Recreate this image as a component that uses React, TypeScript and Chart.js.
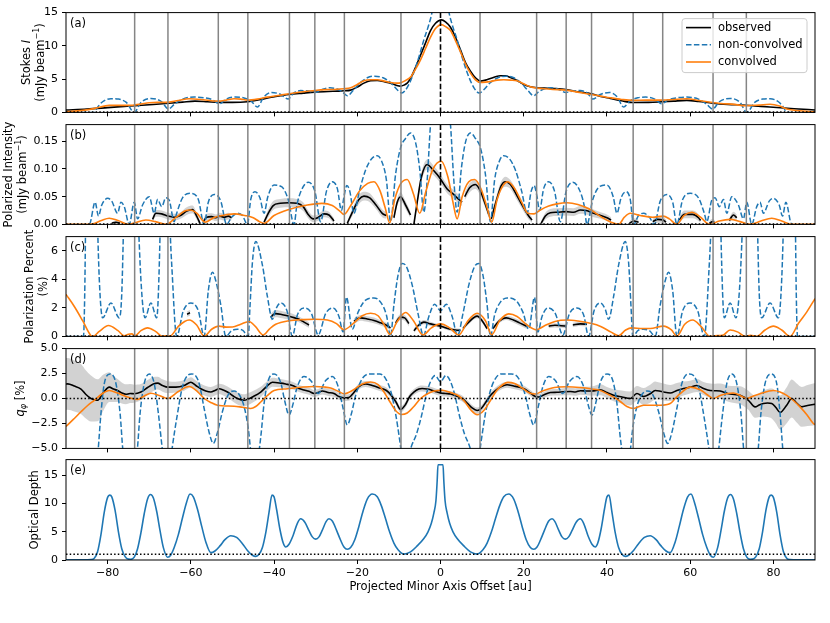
import { useEffect, useRef } from 'react';
import { Chart, registerables } from 'chart.js';

Chart.register(...registerables);

const FONT = '"DejaVu Sans", "Liberation Sans", Arial, sans-serif';
const BLUE = '#1f77b4';
const ORANGE = '#ff7f0e';
const BAND = 'rgba(165,165,165,0.5)';

type Pt = [number, number];
type Obs = [number, number, number] | null;

// ---------------- shared axis data ----------------
const xTickValues = [-80, -60, -40, -20, 0, 20, 40, 60, 80];
const ringGapOffsets = [-73.5, -65.5, -53.4, -46.3, -36.3, -30.2, -23.1, -9.5, 9.5, 23.1, 30.2, 36.3, 46.3, 53.4, 65.5, 73.5];
const legendLabels = ['observed', 'non-convolved', 'convolved'];
const xAxisTitle = 'Projected Minor Axis Offset [au]';

// ---------------- (a) Stokes I ----------------
const stokesObserved: Pt[] = [
  [-90, 0.35], [-85, 0.5], [-80, 0.72], [-76, 0.9], [-73.5, 1.0], [-70, 1.15], [-66, 1.33], [-62, 1.55], [-59, 1.7], [-56, 1.6],
  [-53.4, 1.5], [-50, 1.5], [-46.4, 1.6], [-43.5, 1.9], [-41, 2.25], [-38.5, 2.5], [-36.4, 2.7], [-33, 2.9], [-30.2, 3.05], [-27, 3.15],
  [-24.5, 3.2], [-23.2, 3.25], [-21.6, 3.35], [-20, 3.8], [-18.4, 4.4], [-16.8, 4.75], [-15.2, 4.8], [-13.5, 4.6], [-12, 4.4], [-10.5, 4.05],
  [-9.6, 3.95], [-8.8, 4.1], [-8, 4.4], [-7.2, 5.1], [-6.4, 6.2], [-4.8, 8.6], [-3.5, 10.6], [-2.4, 12.3], [-1.2, 13.4], [0.25, 13.9],
  [1.2, 13.6], [2.4, 12.8], [3.6, 11.3], [4.8, 9.4], [6, 7.5], [7.2, 6.2], [8.4, 5.2], [9.6, 4.7], [10.8, 4.85], [12, 5.1],
  [13.2, 5.35], [14.4, 5.5], [15.6, 5.5], [16.8, 5.25], [18.4, 4.8], [20, 4.2], [21.6, 3.85], [23.2, 3.7], [25, 3.65], [27, 3.6],
  [30.2, 3.45], [33, 3.1], [36.2, 2.8], [38.5, 2.4], [40.8, 2.1], [43.5, 1.75], [46.2, 1.48], [50, 1.5], [53.3, 1.6], [56, 1.7],
  [59.2, 1.8], [62, 1.65], [65.4, 1.38], [69, 1.2], [73.4, 1.08], [77, 0.9], [80.8, 0.74], [85, 0.55], [90, 0.37],
];
const stokesNonConvolved: Pt[] = [
  [-90, 0], [-83.2, 0], [-82.4, 0.8], [-81.2, 1.6], [-79.2, 2.07], [-77.4, 2.0], [-75.5, 1.5], [-73.6, 0], [-72, 1.5], [-69.6, 2.1],
  [-67, 1.6], [-65.4, 0.5], [-64, 1.2], [-62, 2.0], [-59.2, 2.3], [-56.8, 2.2], [-54.8, 1.9], [-53.1, 1.3], [-51.5, 2.0], [-49.3, 2.3],
  [-47.4, 2.2], [-45.5, 1.7], [-44, 0.8], [-42.5, 2.3], [-40.6, 3.0], [-38.4, 2.7], [-36.6, 2.0], [-35.3, 2.9], [-33.6, 3.28], [-31.8, 3.2],
  [-30.1, 3.0], [-28.4, 3.45], [-26.6, 3.7], [-25, 3.55], [-23.6, 3.1], [-22.4, 2.5], [-21, 3.3], [-19.4, 4.4], [-17.6, 5.2], [-15.8, 5.45],
  [-13.8, 5.2], [-12, 4.5], [-10.4, 3.4], [-9.3, 2.9], [-8.6, 3.2], [-7.6, 4.2], [-6.4, 6.0], [-5.2, 8.3], [-4, 10.9], [-2.8, 13.2],
  [-2.0, 15.2], [-1.2, 19], [0, 22], [1.2, 19], [2.0, 15.2], [2.8, 13.2], [4, 10.9], [5.2, 8.3], [6.4, 6.0], [7.6, 4.2],
  [8.6, 3.2], [9.3, 2.9], [10.4, 3.4], [12, 4.5], [13.8, 5.2], [15.8, 5.45], [17.6, 5.2], [19.4, 4.4], [21, 3.3], [22.4, 2.5],
  [23.6, 3.1], [25, 3.55], [26.6, 3.7], [28.4, 3.45], [30.1, 3.0], [31.8, 3.2], [33.6, 3.28], [35.3, 2.9], [36.6, 2.0], [38.4, 2.7],
  [40.6, 3.0], [42.5, 2.3], [44, 0.8], [45.5, 1.7], [47.4, 2.2], [49.3, 2.3], [51.5, 2.0], [53.1, 1.3], [54.8, 1.9], [56.8, 2.2],
  [59.2, 2.3], [62, 2.0], [64, 1.2], [65.4, 0.5], [67, 1.6], [69.6, 2.1], [72, 1.5], [73.6, 0], [75.5, 1.5], [77.4, 2.0],
  [79.2, 2.07], [81.2, 1.6], [82.4, 0.8], [83.2, 0], [90, 0],
];
const stokesConvolved: Pt[] = [
  [-90, 0.1], [-86, 0.3], [-83, 0.6], [-79.6, 1.05], [-76, 1.05], [-74, 1.08], [-72, 1.25], [-70, 1.45], [-68, 1.5], [-66, 1.5],
  [-63, 1.8], [-60.4, 2.05], [-57, 1.9], [-54.5, 1.72], [-53.4, 1.7], [-51.5, 1.85], [-49.6, 2.05], [-48, 2.0], [-46.4, 1.85], [-44, 2.0],
  [-41.6, 2.3], [-39, 2.55], [-36.4, 2.8], [-33, 3.1], [-30.2, 3.3], [-27.5, 3.42], [-25.6, 3.45], [-23.2, 3.55], [-21.6, 3.7], [-20, 4.2],
  [-18.4, 4.75], [-16.8, 4.9], [-15.2, 4.9], [-13.5, 4.7], [-12, 4.5], [-10.5, 4.4], [-9.6, 4.44], [-8.4, 4.8], [-7.2, 5.3], [-6, 6.5],
  [-4.8, 7.9], [-3.6, 9.6], [-2.4, 11.3], [-1.2, 12.6], [0.25, 13.2], [1.2, 12.9], [2.4, 12.3], [3.6, 10.8], [4.8, 9.1], [6, 7.3],
  [7.2, 5.9], [8.4, 4.9], [9.6, 4.5], [10.8, 4.55], [12, 4.65], [13.6, 4.85], [15.2, 4.9], [16.8, 4.85], [18.4, 4.75], [20, 4.3],
  [21.6, 3.85], [23.2, 3.65], [24.8, 3.55], [27, 3.45], [30.2, 3.35], [33, 3.05], [36.2, 2.7], [38.5, 2.45], [40.8, 2.2], [43.5, 1.95],
  [46.2, 1.8], [49.5, 1.85], [53.3, 1.85], [56, 1.95], [59.2, 2.05], [62, 1.8], [65.4, 1.48], [68, 1.3], [70, 1.25], [73.4, 1.0],
  [76.5, 1.1], [79.2, 1.23], [81.5, 0.95], [83.2, 0.5], [86, 0.25], [90, 0.1],
];

// ---------------- (b) Polarized intensity ----------------
const piObserved: Obs[] = [
  [-79, 0.002, 0.002], [-78, 0.004, 0.003], [-77, 0.002, 0.002], null,
  [-69.2, 0.009, 0.005], [-68.4, 0.02, 0.006], [-67, 0.019, 0.006], [-65.5, 0.015, 0.006], [-64, 0.013, 0.006], [-62.5, 0.016, 0.006],
  [-61, 0.024, 0.007], [-59.6, 0.027, 0.007], [-58.6, 0.015, 0.006], [-57.8, 0.002, 0.004], null,
  [-57, 0.005, 0.005], [-56.2, 0.013, 0.006], [-55, 0.014, 0.006], [-54, 0.012, 0.006], [-53, 0.015, 0.006], [-52, 0.013, 0.006],
  [-51, 0.015, 0.006], [-50.2, 0.012, 0.005], null,
  [-42.4, 0.004, 0.004], [-41.4, 0.02, 0.007], [-40.2, 0.034, 0.008], [-38.5, 0.038, 0.008], [-36.5, 0.039, 0.008], [-34.5, 0.038, 0.008],
  [-33, 0.032, 0.008], [-31.8, 0.018, 0.007], [-30.6, 0.01, 0.006], [-29.5, 0.012, 0.006], [-28, 0.019, 0.006], [-26.8, 0.017, 0.006],
  [-25.6, 0.006, 0.005], null,
  [-22.4, 0.002, 0.004], [-21, 0.025, 0.007], [-19.6, 0.045, 0.008], [-18.4, 0.051, 0.008], [-17, 0.048, 0.008], [-15.5, 0.035, 0.007],
  [-14, 0.02, 0.007], [-13, 0.016, 0.006], null,
  [-11.2, 0.012, 0.006], [-10.4, 0.04, 0.007], [-9.6, 0.05, 0.008], [-8.4, 0.035, 0.007], [-7.2, 0.017, 0.006], null,
  [-6.4, 0.0, 0.004], [-5.6, 0.04, 0.007], [-4.6, 0.085, 0.008], [-3.2, 0.108, 0.009], [-2, 0.1, 0.009], [-0.8, 0.09, 0.008],
  [0, 0.082, 0.008], [1.6, 0.064, 0.008], [3, 0.055, 0.008], [4, 0.048, 0.008], [5.2, 0.04, 0.007], null,
  [5.8, 0.05, 0.007], [7, 0.066, 0.008], [8.4, 0.072, 0.008], [9.6, 0.06, 0.008], [10.6, 0.04, 0.007], [11.6, 0.018, 0.006], null,
  [12.2, 0.01, 0.005], [13.5, 0.045, 0.008], [14.6, 0.07, 0.008], [15.6, 0.077, 0.009], [16.8, 0.072, 0.008], [18.5, 0.05, 0.008],
  [20, 0.03, 0.007], [21.2, 0.015, 0.006], [22, 0.008, 0.005], null,
  [24.2, 0.002, 0.004], [25.2, 0.015, 0.006], [26.4, 0.021, 0.007], [28, 0.022, 0.007], [30.2, 0.023, 0.007], [32, 0.022, 0.007],
  [33.6, 0.026, 0.007], [35, 0.025, 0.007], [36.8, 0.02, 0.007], [38.5, 0.016, 0.006], [40, 0.012, 0.006], [41, 0.008, 0.005], null,
  [45.4, 0.002, 0.004], [46.5, 0.006, 0.005], [47.6, 0.004, 0.004], null,
  [51, 0.005, 0.005], [52.2, 0.009, 0.006], [53.5, 0.008, 0.006], [54.2, 0.004, 0.005], null,
  [57.4, 0.008, 0.006], [58.6, 0.018, 0.007], [60.6, 0.018, 0.007], [62, 0.012, 0.006], [62.5, 0.007, 0.005], null,
  [64.6, 0.002, 0.004], [65.4, 0.005, 0.005], [66, 0.002, 0.004], null,
  [69.4, 0.007, 0.005], [70.4, 0.017, 0.006], [71.2, 0.012, 0.006],
];
const piNonConvolved: Pt[] = [
  [-90, 0], [-84.4, 0], [-83, 0.04], [-82.2, 0.015], [-81.4, 0.035], [-80, 0.047], [-79, 0.042], [-77.6, 0.02], [-76.8, 0.04], [-76, 0.032],
  [-74.8, 0], [-73.6, 0.04], [-72.8, 0.01], [-71.6, 0.035], [-70, 0.05], [-68.8, 0.02], [-68, 0.045], [-67, 0.032], [-66, 0.048], [-65.2, 0.044],
  [-64, 0.005], [-63.4, 0.02], [-62, 0.048], [-60, 0.056], [-58.2, 0.045], [-56.8, 0], [-55.8, 0.04], [-54.4, 0.054], [-52.8, 0.042], [-51.4, 0],
  [-50.2, 0.013], [-48.8, 0.02], [-47.6, 0.016], [-46.4, 0], [-45.6, 0.045], [-44.6, 0.059], [-43.4, 0.048], [-42.4, 0.02], [-41.5, 0.05], [-40, 0.071],
  [-38.2, 0.068], [-36.6, 0.045], [-35.2, 0], [-34.5, 0.035], [-33.4, 0.062], [-31.8, 0.076], [-30.2, 0.06], [-28.8, 0.005], [-27.4, 0.06], [-26, 0.077],
  [-24.8, 0.065], [-23.8, 0.025], [-23.2, 0.05], [-22.5, 0.07], [-21.8, 0.06], [-20.8, 0.02], [-19.5, 0.06], [-18, 0.098], [-16.6, 0.118], [-15.2, 0.124],
  [-14.2, 0.115], [-13, 0.08], [-12, 0.005], [-10.8, 0.09], [-9.6, 0.138], [-8.4, 0.155], [-7.2, 0.165], [-6, 0.148], [-5, 0.1], [-4, 0.022],
  [-3.2, 0.08], [-2.4, 0.18], [-1.2, 0.26], [0, 0.3], [1.2, 0.26], [2.4, 0.18], [3.2, 0.08], [4, 0.022], [5, 0.1], [6, 0.148],
  [7.2, 0.165], [8.4, 0.155], [9.6, 0.138], [10.8, 0.09], [12, 0.005], [13, 0.08], [14.2, 0.115], [15.2, 0.124], [16.6, 0.118], [18, 0.098],
  [19.5, 0.06], [20.8, 0.02], [21.8, 0.06], [22.5, 0.07], [23.2, 0.05], [23.8, 0.025], [24.8, 0.065], [26, 0.077], [27.4, 0.06], [28.8, 0.005],
  [30.2, 0.06], [31.8, 0.076], [33.4, 0.062], [34.5, 0.035], [35.2, 0], [36.6, 0.045], [38.2, 0.068], [40, 0.071], [41.5, 0.05], [42.4, 0.02],
  [43.4, 0.048], [44.6, 0.059], [45.6, 0.045], [46.4, 0], [47.6, 0.016], [48.8, 0.02], [50.2, 0.013], [51.4, 0], [52.8, 0.042], [54.4, 0.054],
  [55.8, 0.04], [56.8, 0], [58.2, 0.045], [60, 0.056], [62, 0.048], [63.4, 0.02], [64, 0.005], [65.2, 0.044], [66, 0.048], [67, 0.032],
  [68, 0.045], [68.8, 0.02], [70, 0.05], [71.6, 0.035], [72.8, 0.01], [73.6, 0.04], [74.8, 0], [76, 0.032], [76.8, 0.04], [77.6, 0.02],
  [79, 0.042], [80, 0.047], [81.4, 0.035], [82.2, 0.015], [83, 0.04], [84.4, 0], [90, 0],
];
const piConvolved: Pt[] = [
  [-90, 0], [-85, 0], [-83.5, 0.001], [-81.5, 0.007], [-79.6, 0.011], [-77.5, 0.007], [-75, 0], [-73.5, 0.003], [-70.8, 0.008], [-68.5, 0.005],
  [-66, 0], [-63.5, 0.013], [-61.5, 0.024], [-60.2, 0.026], [-58.5, 0.02], [-56.6, 0.004], [-54.5, 0.012], [-52.5, 0.016], [-49.6, 0.019], [-47, 0.016],
  [-45, 0.012], [-43.5, 0.005], [-42.4, 0.002], [-40, 0.016], [-36.4, 0.027], [-32, 0.035], [-28.5, 0.038], [-26, 0.034], [-24.2, 0.024], [-23.2, 0.018],
  [-21.5, 0.035], [-19.5, 0.06], [-17.5, 0.074], [-16, 0.077], [-14.5, 0.06], [-13.3, 0.03], [-12.2, 0.003], [-11, 0.045], [-9.6, 0.073], [-8, 0.081],
  [-6.5, 0.055], [-5, 0.02], [-3.5, 0.06], [-1.8, 0.1], [0.16, 0.114], [1.8, 0.085], [3, 0.04], [4, 0.01], [5.2, 0.05], [6.8, 0.077],
  [8.2, 0.081], [9.8, 0.063], [11.2, 0.03], [12.3, 0.004], [13.6, 0.045], [15, 0.07], [16.2, 0.077], [17.8, 0.065], [19.5, 0.04], [21, 0.02],
  [22.5, 0.019], [24, 0.026], [26, 0.033], [28, 0.037], [30.4, 0.039], [33, 0.036], [36, 0.027], [38.5, 0.014], [41, 0.004], [42.8, 0],
  [44.2, 0.013], [45.6, 0.02], [48, 0.016], [51, 0.013], [53.5, 0.015], [55, 0.01], [56.8, 0], [58.5, 0.016], [60.4, 0.022], [62.5, 0.013],
  [64.6, 0], [67, 0.006], [69.6, 0.009], [72, 0.005], [74.5, 0], [77, 0.006], [79.6, 0.011], [82, 0.006], [84.3, 0], [90, 0],
];

// ---------------- (c) Polarization percent ----------------
const ppObserved: Obs[] = [
  [-60.9, 1.56, 0.2], [-60.2, 1.66, 0.2], null,
  [-40.8, 1.32, 0.25], [-40.2, 1.52, 0.25], [-39.6, 1.6, 0.25], [-38, 1.52, 0.25], [-36.4, 1.42, 0.25], [-35, 1.3, 0.22],
  [-34, 1.2, 0.2], [-32.8, 1.0, 0.2], [-31.6, 0.8, 0.2], null,
  [-20.8, 1.05, 0.2], [-19.8, 1.25, 0.2], [-19.2, 1.3, 0.2], [-17.6, 1.22, 0.2], [-16, 1.12, 0.2], [-14.4, 0.95, 0.18],
  [-12.8, 0.75, 0.18], [-12, 0.6, 0.18], null,
  [-10.8, 0.95, 0.2], [-9.6, 1.35, 0.2], [-8.6, 1.3, 0.2], [-7.6, 0.9, 0.2], null,
  [-6.4, 0.4, 0.15], [-5.2, 0.8, 0.15], [-4, 1.0, 0.15], [-2.4, 0.88, 0.15], [-1, 0.78, 0.12], [0, 0.72, 0.12],
  [1.2, 0.6, 0.12], [2.4, 0.5, 0.12], [3.6, 0.45, 0.12], [4.8, 0.42, 0.12], null,
  [5.4, 0.55, 0.15], [6.8, 1.0, 0.15], [8.8, 1.42, 0.15], [10, 1.1, 0.15], [11.2, 0.55, 0.15], null,
  [12.6, 0.55, 0.15], [14, 1.05, 0.15], [15.8, 1.3, 0.15], [17.5, 1.15, 0.18], [19, 0.95, 0.18], [20.8, 0.7, 0.18], null,
  [26, 0.72, 0.15], [27.5, 0.78, 0.15], [29, 0.75, 0.15], [30.4, 0.72, 0.15], null,
  [31.8, 0.8, 0.15], [33.6, 0.88, 0.15], [35.2, 0.85, 0.15],
];
const ppNonConvolved: Pt[] = [
  [-90, 0], [-85.8, 0], [-85.5, 3], [-85.2, 10], [-84, 30], [-82.6, 10], [-82, 4], [-81.2, 1.3], [-79.2, 2.35], [-77.2, 1.3],
  [-76.6, 3], [-76, 10], [-74.4, 30], [-72.8, 10], [-72, 4], [-71, 1.3], [-69.6, 2.35], [-68.2, 1.3], [-67.8, 3], [-67.2, 10],
  [-66.2, 30], [-65.2, 10], [-64.4, 4], [-63.4, 0], [-61.8, 1.8], [-60, 2.35], [-58.2, 1.8], [-56.8, 0], [-55.8, 3.2], [-54.8, 4.5],
  [-54, 3.9], [-52.8, 2.2], [-51.6, 0], [-50.2, 0.4], [-48.8, 0.5], [-47.5, 0.42], [-46.2, 0], [-45.8, 2], [-45.2, 5.2], [-44.4, 6.65],
  [-42.8, 5], [-41.6, 2.8], [-40.4, 1.2], [-39.6, 1.9], [-38.4, 2.35], [-36.9, 1.8], [-35.6, 0], [-34.4, 1.5], [-32.8, 2], [-31, 1.6],
  [-29.4, 0.1], [-27.6, 1.6], [-25.8, 2], [-24.4, 1.4], [-23.4, 0.3], [-22.6, 2.75], [-21.2, 0.5], [-19.8, 1.7], [-18, 2.55], [-16, 2.7],
  [-14.4, 2.4], [-13, 1.5], [-12, 0], [-11.2, 2.2], [-10.2, 4.3], [-9.2, 5.12], [-8.2, 4.9], [-6.8, 3.6], [-5.4, 1.6], [-4.1, 0.05],
  [-2.8, 1.4], [-1.4, 2.25], [0, 1.8], [1.4, 2.25], [2.8, 1.4], [4.1, 0.05], [5.4, 1.6], [6.8, 3.6], [8.2, 4.9], [9.2, 5.12],
  [10.2, 4.3], [11.2, 2.2], [12, 0], [13, 1.5], [14.4, 2.4], [16, 2.7], [18, 2.55], [19.8, 1.7], [21.2, 0.5], [22.6, 2.75],
  [23.4, 0.3], [24.4, 1.4], [25.8, 2], [27.6, 1.6], [29.4, 0.1], [31, 1.6], [32.8, 2], [34.4, 1.5], [35.6, 0], [36.9, 1.8],
  [38.4, 2.35], [39.6, 1.9], [40.4, 1.2], [41.6, 2.8], [42.8, 5], [44.4, 6.65], [45.2, 5.2], [45.8, 2], [46.2, 0], [47.5, 0.42],
  [48.8, 0.5], [50.2, 0.4], [51.6, 0], [52.8, 2.2], [54, 3.9], [54.8, 4.5], [55.8, 3.2], [56.8, 0], [58.2, 1.8], [60, 2.35],
  [61.8, 1.8], [63.4, 0], [64.4, 4], [65.2, 10], [66.2, 30], [67.2, 10], [67.8, 3], [68.2, 1.3], [69.6, 2.35], [71, 1.3],
  [72, 4], [72.8, 10], [74.4, 30], [76, 10], [76.6, 3], [77.2, 1.3], [79.2, 2.35], [81.2, 1.3], [82, 4], [82.6, 10],
  [84, 30], [85.2, 10], [85.5, 3], [85.8, 0], [90, 0],
];
const ppConvolved: Pt[] = [
  [-90, 2.95], [-88, 2.1], [-86, 1.1], [-84, 0.05], [-83.5, 0], [-82, 0.35], [-79.8, 0.76], [-77.5, 0.4], [-76, 0.05], [-75, 0.15],
  [-74.2, 0.18], [-73.4, 0.05], [-72, 0.4], [-70.4, 0.6], [-68.5, 0.35], [-66.8, 0], [-66, 0.05], [-65, 0.03], [-63, 0.7], [-61.5, 1.05],
  [-60.4, 1.15], [-58.6, 0.8], [-56.8, 0.02], [-55, 0.5], [-53.2, 0.72], [-51.5, 0.65], [-50, 0.66], [-48, 0.85], [-46, 1.05], [-44.5, 0.7],
  [-42.6, 0.1], [-41, 0.55], [-39.6, 0.85], [-36.4, 1.1], [-33, 1.18], [-30.2, 1.2], [-27.2, 1.15], [-25, 0.9], [-23.2, 0.47], [-21, 0.9],
  [-18.8, 1.45], [-16.8, 1.62], [-15, 1.45], [-13.5, 0.8], [-12.2, 0.15], [-10.5, 1.0], [-8.4, 1.68], [-6.5, 1.1], [-4.2, 0.1], [-2.2, 0.6],
  [0, 0.88], [2.2, 0.6], [4.4, 0.1], [6.6, 1.1], [8.8, 1.62], [10.8, 1.1], [12.3, 0.12], [14.2, 1.1], [16.4, 1.58], [18.4, 1.4],
  [20.8, 0.8], [23, 0.46], [25, 0.75], [27.5, 1.05], [30.4, 1.15], [33, 1.08], [36, 0.92], [38.5, 0.7], [41, 0.3], [42.8, 0.05],
  [44.5, 0.45], [46, 0.6], [48.5, 0.55], [50.4, 0.55], [53.6, 0.72], [55.5, 0.45], [56.8, 0.02], [58.7, 0.85], [60.6, 1.15], [62.6, 0.7],
  [64.8, 0], [66, 0.05], [67.2, 0.06], [68, 0.1], [69.6, 0.45], [71.5, 0.3], [73.2, 0], [74.5, 0.08], [76, 0], [78, 0.45],
  [80, 0.72], [82, 0.45], [84, 0], [86, 0.9], [88, 1.7], [90, 2.65],
];

// ---------------- (d) q_phi ----------------
const qObserved: Obs[] = [
  [-90, 1.45, 2.6], [-89.6, 1.47, 2.6], [-88, 1.25, 2.55], [-86.4, 0.95, 2.5], [-85.2, 0.4, 2.4], [-84, 0.0, 2.3], [-82.4, -0.18, 2.1],
  [-81, 0.6, 1.8], [-79.6, 1.14, 1.5], [-78.6, 0.95, 1.3], [-77.6, 0.8, 1.15], [-76.6, 0.55, 1.05], [-75.6, 0.42, 1.0], [-74.6, 0.5, 0.95],
  [-73.6, 0.48, 0.9], [-72, 0.65, 0.8], [-70.4, 1.1, 0.75], [-69, 1.45, 0.7], [-68, 1.54, 0.65], [-66.8, 1.3, 0.62], [-65.6, 1.14, 0.6],
  [-63.6, 1.14, 0.55], [-61.6, 1.3, 0.52], [-60, 1.63, 0.5], [-58.8, 1.3, 0.5], [-57.6, 0.97, 0.5], [-56.4, 0.75, 0.5], [-55.2, 0.65, 0.5],
  [-54.2, 0.8, 0.5], [-53.2, 0.97, 0.52], [-52.2, 0.85, 0.55], [-51.2, 0.65, 0.55], [-50, 0.3, 0.58], [-48.8, 0.0, 0.6], [-47.2, -0.18, 0.6],
  [-46.2, -0.05, 0.6], [-45.2, 0.15, 0.58], [-43.2, 0.65, 0.52], [-41.8, 1.2, 0.48], [-40.4, 1.63, 0.45], [-38.4, 1.54, 0.42], [-37.2, 1.45, 0.4],
  [-35.6, 1.3, 0.38], [-34, 1.0, 0.36], [-32.8, 0.85, 0.35], [-31.6, 0.72, 0.35], [-30.4, 0.5, 0.35], [-29.4, 0.6, 0.35], [-28.4, 0.75, 0.35],
  [-27, 0.6, 0.35], [-25.6, 0.5, 0.35], [-24.4, 0.2, 0.33], [-23.2, 0.07, 0.33], [-22, 0.1, 0.33], [-21, 0.5, 0.3], [-19.6, 1.2, 0.3],
  [-18, 1.45, 0.3], [-16.4, 1.3, 0.3], [-14.6, 1.05, 0.3], [-13, 0.8, 0.3], [-11.8, 0.3, 0.3], [-10.7, -0.35, 0.3], [-9.6, -1.1, 0.3],
  [-8.4, -0.6, 0.3], [-7.4, 0.2, 0.3], [-6.4, 0.65, 0.3], [-5.2, 0.95, 0.3], [-4.4, 1.0, 0.3], [-3.2, 0.95, 0.3], [-2.4, 0.88, 0.3],
  [-1.2, 0.7, 0.3], [0, 0.55, 0.3], [1.2, 0.5, 0.3], [2.4, 0.45, 0.3], [4, 0.22, 0.3], [5.2, 0.0, 0.3], [6.4, -0.45, 0.3],
  [7.6, -0.95, 0.3], [8.8, -1.2, 0.3], [9.8, -1.0, 0.3], [11, -0.3, 0.3], [12, 0.3, 0.3], [13.2, 0.8, 0.3], [14.6, 1.2, 0.3],
  [16, 1.38, 0.3], [17.6, 1.25, 0.3], [19.2, 1.1, 0.3], [20.4, 0.9, 0.3], [21.6, 0.55, 0.3], [22.8, 0.2, 0.3], [23.6, 0.15, 0.3],
  [24.8, 0.35, 0.3], [26.4, 0.6, 0.32], [28, 0.62, 0.33], [29.6, 0.68, 0.35], [31.2, 0.7, 0.37], [32.4, 0.65, 0.38], [33.6, 0.78, 0.4],
  [35, 0.75, 0.42], [36.4, 0.75, 0.45], [38.4, 0.88, 0.55], [40, 0.6, 0.55], [41.6, 0.32, 0.6], [43.6, 0.15, 0.65], [45.6, 0.0, 0.7],
  [47.2, 0.5, 0.75], [48.8, 0.2, 0.85], [50.4, 0.48, 0.9], [51.6, 0.8, 0.9], [52.6, 0.75, 0.85], [53.6, 0.65, 0.85], [55.2, 0.55, 0.8],
  [56.8, 0.8, 0.75], [58.4, 1.0, 0.7], [60, 1.14, 0.65], [61.6, 1.3, 0.65], [63.2, 1.0, 0.65], [64.8, 0.8, 0.7], [66, 0.78, 0.7],
  [67.2, 0.75, 0.75], [69.2, 0.48, 0.8], [70.6, 0.4, 0.85], [72, 0.32, 0.9], [74, -0.18, 0.95], [75.6, -0.84, 1.1], [76.6, -0.65, 1.2],
  [77.6, -0.5, 1.3], [78.6, -0.45, 1.4], [79.6, -0.5, 1.5], [80.6, -0.9, 1.6], [81.6, -1.4, 1.7], [83.2, -0.67, 1.8], [84.4, 0.0, 1.9],
  [85.6, -0.45, 1.95], [86.8, -0.84, 2.0], [88.2, -0.7, 2.05], [89.6, -0.6, 2.1], [90, -0.58, 2.1],
];
const qNonConvolved: Pt[] = [
  [-90, -10], [-83.4, -10], [-82.3, -5.3], [-81.6, -1.5], [-80.8, 1.5], [-79.4, 2.46], [-78, 1.5], [-77, -1.5], [-76.3, -5.3], [-74.6, -9],
  [-72.9, -5.3], [-72.2, -1.5], [-71.2, 1.5], [-70, 2.46], [-68.8, 1.5], [-67.8, -1.5], [-66.8, -5.3], [-65.7, -9], [-64.6, -5.3], [-63.2, -1.5],
  [-62, 1.2], [-60.8, 2.3], [-59.8, 2.46], [-59, 2.35], [-58, 1.5], [-56.8, -1.0], [-55.6, -3.4], [-54.6, -4.5], [-53.6, -3.4], [-52.4, -1.3],
  [-51, 0.4], [-49.6, 0.75], [-48.4, 0.4], [-47.2, -0.8], [-46.2, -3], [-45.6, -5.3], [-44.6, -9], [-43.6, -5.3], [-43.1, -3.5], [-42.4, -0.5],
  [-41.4, 1.8], [-40, 2.46], [-38.4, 1.6], [-37.4, -0.3], [-36.4, -1.66], [-35.6, -0.8], [-34.4, 1.2], [-32.8, 2.2], [-31, 1.7], [-29.4, 0.5],
  [-27.6, 1.8], [-26, 2.2], [-24.6, 1.2], [-23.4, -1], [-22.4, -2.65], [-21.4, -1.5], [-20.4, 0.3], [-18.8, 2], [-17, 2.46], [-14.6, 2.46],
  [-13.2, 2], [-12, 0.8], [-10.8, -1.5], [-9.8, -4.2], [-9.2, -6], [-8.5, -7.5], [-7.8, -6], [-7, -4.8], [-5.8, -3.6], [-4.6, -1.8],
  [-3.4, 0.4], [-2.4, 1.7], [-1.3, 2.3], [0, 1.7], [1.3, 2.3], [2.4, 1.7], [3.4, 0.4], [4.6, -1.8], [5.8, -3.6], [7, -4.8],
  [7.8, -6], [8.5, -7.5], [9.2, -6], [9.8, -4.2], [10.8, -1.5], [12, 0.8], [13.2, 2], [14.6, 2.46], [17, 2.46], [18.8, 2],
  [20.4, 0.3], [21.4, -1.5], [22.4, -2.65], [23.4, -1], [24.6, 1.2], [26, 2.2], [27.6, 1.8], [29.4, 0.5], [31, 1.7], [32.8, 2.2],
  [34.4, 1.2], [35.6, -0.8], [36.4, -1.66], [37.4, -0.3], [38.4, 1.6], [40, 2.46], [41.4, 1.8], [42.4, -0.5], [43.1, -3.5], [43.6, -5.3],
  [44.6, -9], [45.6, -5.3], [46.2, -3], [47.2, -0.8], [48.4, 0.4], [49.6, 0.75], [51, 0.4], [52.4, -1.3], [53.6, -3.4], [54.6, -4.5],
  [55.6, -3.4], [56.8, -1.0], [58, 1.5], [59, 2.35], [59.8, 2.46], [60.8, 2.3], [62, 1.2], [63.2, -1.5], [64.6, -5.3], [65.7, -9],
  [66.8, -5.3], [67.8, -1.5], [68.8, 1.5], [70, 2.46], [71.2, 1.5], [72.2, -1.5], [72.9, -5.3], [74.6, -9], [76.3, -5.3], [77, -1.5],
  [78, 1.5], [79.4, 2.46], [80.8, 1.5], [81.6, -1.5], [82.3, -5.3], [83.4, -10], [90, -10],
];
const qConvolved: Pt[] = [
  [-90, -2.8], [-89.6, -2.65], [-88, -2.0], [-86.4, -1.33], [-84.8, -0.7], [-83.2, -0.18], [-81.4, 0.45], [-79.6, 0.8], [-77.6, 0.55], [-75.2, 0.15],
  [-72.8, -0.1], [-71.2, 0.25], [-69.6, 0.52], [-67.6, 0.3], [-65.6, 0], [-63, 0.7], [-60.4, 1.2], [-58.4, 0.7], [-56.8, 0], [-55.2, -0.4],
  [-53.6, -0.67], [-49.6, -0.77], [-47.6, -0.88], [-45.6, -1.0], [-44.4, -0.8], [-43.2, -0.35], [-41.6, 0.3], [-40, 0.8], [-36.8, 0.97], [-33, 1.15],
  [-30.2, 1.2], [-28, 1.15], [-26.4, 1.05], [-24.5, 0.7], [-23.2, 0.48], [-21, 0.85], [-18.8, 1.45], [-16.8, 1.65], [-15, 1.4], [-13.5, 0.6],
  [-12.2, -0.3], [-10.8, -1.2], [-9.4, -1.6], [-8, -1.45], [-6.4, -0.8], [-4.8, 0], [-3, 0.5], [-1.5, 0.75], [0.4, 0.82], [2.4, 0.6],
  [4.4, 0.25], [5.8, -0.3], [7.4, -1.2], [8.8, -1.62], [10.4, -1.2], [12, -0.2], [13.5, 0.8], [15, 1.4], [16.2, 1.62], [17.8, 1.5],
  [19.8, 1.0], [21.4, 0.55], [22.8, 0.45], [24.5, 0.75], [27.4, 1.1], [30.4, 1.17], [33.5, 1.1], [36.4, 0.95], [38.4, 0.8], [40.6, 0.35],
  [42.2, 0], [43.2, -0.3], [44.8, -0.8], [46.4, -1.0], [48.8, -0.67], [52.8, -0.67], [55.2, -0.5], [56.4, 0], [57.6, 0.48], [60, 1.14],
  [62.4, 0.88], [64, 0.4], [65.6, 0], [67.2, 0.3], [68.8, 0.48], [70.4, 0.55], [72, 0.3], [73.6, 0], [75.2, 0.25], [76.8, 0.48],
  [80, 0.8], [81.6, 0.65], [83.2, 0.32], [84.8, -0.2], [86.4, -0.84], [88, -1.6], [89.6, -2.5], [90, -2.6],
];

// ---------------- (e) Optical depth ----------------
const opticalDepth: Pt[] = [
  [-90, 0.05], [-86, 0.05], [-84, 0.08], [-83.2, 0.3], [-82.4, 1.5], [-81.6, 4.5], [-80.8, 8.5], [-80, 11.1], [-79.5, 11.5], [-79, 11.2],
  [-78.2, 8.8], [-77.4, 5], [-76.6, 2], [-75.8, 0.6], [-75, 0.15], [-74.4, 0.12], [-73.6, 0.5], [-72.8, 2], [-72, 4.8], [-71.2, 8.2],
  [-70.4, 10.8], [-69.7, 11.6], [-69, 11], [-68.2, 8.6], [-67.4, 5.2], [-66.6, 2.2], [-65.6, 0.5], [-64.8, 0.9], [-64, 2.2], [-63, 4.5],
  [-62, 7.5], [-61, 10.3], [-60.2, 11.7], [-59.4, 11.2], [-58.4, 9], [-57.4, 6], [-56.4, 3.2], [-55.2, 1.3], [-54.2, 1.6], [-53, 2.5],
  [-51.8, 3.6], [-50.4, 4.3], [-49, 4], [-47.6, 2.9], [-46.4, 1.7], [-45.2, 0.85], [-44.4, 0.65], [-43.6, 1], [-42.8, 2.2], [-42, 4.8],
  [-41.2, 8.5], [-40.5, 11.5], [-40, 11.2], [-39.4, 9], [-38.6, 5.5], [-37.8, 3], [-37.2, 2.3], [-36.4, 2.8], [-35.4, 4.4], [-34.4, 6.5],
  [-33.6, 7.3], [-32.6, 6.7], [-31.6, 5.2], [-30.8, 4.1], [-30, 3.7], [-29.2, 4.1], [-28.4, 5.3], [-27.5, 6.8], [-26.8, 7.3], [-26, 6.9],
  [-25, 5.3], [-24, 3.5], [-23.2, 2.3], [-22.4, 1.9], [-21.6, 2.2], [-20.6, 3.6], [-19.6, 6], [-18.6, 8.7], [-17.6, 10.8], [-16.4, 11.7],
  [-15.2, 11.2], [-14.2, 9.6], [-13.2, 7.3], [-12.2, 4.9], [-11.2, 3], [-10.2, 1.8], [-8.8, 1.05], [-7.2, 1.45], [-5.6, 2.5], [-4, 3.8],
  [-3, 5], [-2.2, 6.5], [-1.6, 8.3], [-1.1, 10.5], [-0.8, 14], [-0.6, 16.9], [0, 16.9], [0.6, 16.9], [0.8, 14], [1.1, 10.5],
  [1.6, 8.3], [2.2, 6.5], [3, 5], [4, 3.8], [5.6, 2.5], [7.2, 1.45], [8.8, 1.05], [10.2, 1.8], [11.2, 3], [12.2, 4.9],
  [13.2, 7.3], [14.2, 9.6], [15.2, 11.2], [16.4, 11.7], [17.6, 10.8], [18.6, 8.7], [19.6, 6], [20.6, 3.6], [21.6, 2.2], [22.4, 1.9],
  [23.2, 2.3], [24, 3.5], [25, 5.3], [26, 6.9], [26.8, 7.3], [27.5, 6.8], [28.4, 5.3], [29.2, 4.1], [30, 3.7], [30.8, 4.1],
  [31.6, 5.2], [32.6, 6.7], [33.6, 7.3], [34.4, 6.5], [35.4, 4.4], [36.4, 2.8], [37.2, 2.3], [37.8, 3], [38.6, 5.5], [39.4, 9],
  [40, 11.2], [40.5, 11.5], [41.2, 8.5], [42, 4.8], [42.8, 2.2], [43.6, 1], [44.4, 0.65], [45.2, 0.85], [46.4, 1.7], [47.6, 2.9],
  [49, 4], [50.4, 4.3], [51.8, 3.6], [53, 2.5], [54.2, 1.6], [55.2, 1.3], [56.4, 3.2], [57.4, 6], [58.4, 9], [59.4, 11.2],
  [60.2, 11.7], [61, 10.3], [62, 7.5], [63, 4.5], [64, 2.2], [64.8, 0.9], [65.6, 0.5], [66.6, 2.2], [67.4, 5.2], [68.2, 8.6],
  [69, 11], [69.7, 11.6], [70.4, 10.8], [71.2, 8.2], [72, 4.8], [72.8, 2], [73.6, 0.5], [74.4, 0.12], [75, 0.15], [75.8, 0.6],
  [76.6, 2], [77.4, 5], [78.2, 8.8], [79, 11.2], [79.5, 11.5], [80, 11.1], [80.8, 8.5], [81.6, 4.5], [82.4, 1.5], [83.2, 0.3],
  [84, 0.08], [86, 0.05], [90, 0.05],
];

// ---------------- helpers ----------------
const toXY = (arr: Pt[]) => arr.map(([x, y]) => ({ x, y }));
const obsLine = (arr: Obs[], sign = 0) => {
  let last = 0;
  return arr.map((p) => {
    if (p) {
      last = p[0];
      return { x: p[0], y: p[1] + sign * p[2] };
    }
    return { x: last, y: null as any };
  });
};
const minus = (s: string) => s.replace('-', '\u2212');

function lineDs(data: any[], color: string, width: number, dash: number[] = []) {
  return { data, borderColor: color, backgroundColor: color, borderWidth: width, borderDash: dash, pointRadius: 0, fill: false, spanGaps: false };
}
function bandDs(obs: Obs[], sign: number, fill: any) {
  return { data: obsLine(obs, sign), borderWidth: 0, borderColor: 'rgba(0,0,0,0)', backgroundColor: BAND, pointRadius: 0, fill, spanGaps: false };
}

interface Run { t: string; italic?: boolean; shift?: number; scale?: number }
interface PanelSpec {
  letter: string;
  areaTop: number;
  axisH: number;
  yMin: number;
  yMax: number;
  yTicks: number[];
  yFmt: (v: number) => string;
  titles: { x: number; runs: Run[] }[];
  datasets: any[];
  gaps: boolean;
  refY: number;
  legend?: boolean;
  xLabels?: boolean;
}

const AREA_H = 101;
const PAD_TOP = 10;
const PAD_BOTTOM = 4;
const Y_AXIS_W = 66;
const RIGHT_PAD = 15;
const TITLE_SIZE = 11.5;

const mjy: Run[] = [{ t: '(mJy beam' }, { t: '\u22121', shift: -0.33, scale: 0.7 }, { t: ')' }];

const panels: PanelSpec[] = [
  {
    letter: '(a)', areaTop: 12, axisH: 6, yMin: 0, yMax: 15, yTicks: [0, 5, 10, 15], yFmt: (v) => String(v),
    titles: [{ x: 27, runs: [{ t: 'Stokes ' }, { t: 'I', italic: true }] }, { x: 41, runs: mjy }],
    datasets: [
      lineDs(toXY(stokesConvolved), ORANGE, 1.6),
      lineDs(toXY(stokesNonConvolved), BLUE, 1.5, [5.5, 2.4]),
      lineDs(toXY(stokesObserved), '#000', 1.6),
    ],
    gaps: true, refY: 0, legend: true,
  },
  {
    letter: '(b)', areaTop: 124, axisH: 6, yMin: 0, yMax: 0.18, yTicks: [0, 0.05, 0.1, 0.15], yFmt: (v) => v.toFixed(2),
    titles: [{ x: 9, runs: [{ t: 'Polarized Intensity' }] }, { x: 23, runs: mjy }],
    datasets: [
      lineDs(toXY(piConvolved), ORANGE, 1.6),
      lineDs(toXY(piNonConvolved), BLUE, 1.5, [5.5, 2.4]),
      lineDs(obsLine(piObserved), '#000', 1.6),
      bandDs(piObserved, 1, '+1'),
      bandDs(piObserved, -1, false),
    ],
    gaps: true, refY: 0,
  },
  {
    letter: '(c)', areaTop: 236, axisH: 6, yMin: 0, yMax: 7, yTicks: [0, 2, 4, 6], yFmt: (v) => String(v),
    titles: [{ x: 30, runs: [{ t: 'Polarization Percent' }] }, { x: 44, runs: [{ t: '(%)' }] }],
    datasets: [
      lineDs(toXY(ppConvolved), ORANGE, 1.6),
      lineDs(toXY(ppNonConvolved), BLUE, 1.5, [5.5, 2.4]),
      lineDs(obsLine(ppObserved), '#000', 1.6),
      bandDs(ppObserved, 1, '+1'),
      bandDs(ppObserved, -1, false),
    ],
    gaps: true, refY: 0,
  },
  {
    letter: '(d)', areaTop: 348, axisH: 6, yMin: -5, yMax: 5, yTicks: [-5, -2.5, 0, 2.5, 5], yFmt: (v) => minus(v.toFixed(1)),
    titles: [{ x: 21, runs: [{ t: 'q', italic: true }, { t: '\u03c6', italic: true, shift: 0.28, scale: 0.7 }, { t: ' [%]' }] }],
    datasets: [
      lineDs(toXY(qConvolved), ORANGE, 1.6),
      lineDs(toXY(qNonConvolved), BLUE, 1.5, [5.5, 2.4]),
      lineDs(obsLine(qObserved), '#000', 1.6),
      bandDs(qObserved, 1, '+1'),
      bandDs(qObserved, -1, false),
    ],
    gaps: true, refY: 0,
  },
  {
    letter: '(e)', areaTop: 459, axisH: 40, yMin: 0, yMax: 17.8, yTicks: [0, 5, 10, 15], yFmt: (v) => String(v),
    titles: [{ x: 35, runs: [{ t: 'Optical Depth' }] }],
    datasets: [lineDs(toXY(opticalDepth), BLUE, 1.6)],
    gaps: false, refY: 1, xLabels: true,
  },
];

function drawRuns(ctx: CanvasRenderingContext2D, runs: Run[], cx: number, cy: number) {
  ctx.save();
  ctx.translate(cx, cy);
  ctx.rotate(-Math.PI / 2);
  ctx.textBaseline = 'middle';
  ctx.textAlign = 'left';
  ctx.fillStyle = '#000';
  const fontFor = (r: Run) => `${r.italic ? 'italic ' : ''}${TITLE_SIZE * (r.scale ?? 1)}px ${FONT}`;
  let total = 0;
  for (const r of runs) {
    ctx.font = fontFor(r);
    total += ctx.measureText(r.t).width;
  }
  let x = -total / 2;
  for (const r of runs) {
    ctx.font = fontFor(r);
    ctx.fillText(r.t, x, (r.shift ?? 0) * TITLE_SIZE);
    x += ctx.measureText(r.t).width;
  }
  ctx.restore();
}

function drawLegend(ctx: CanvasRenderingContext2D, a: { left: number; right: number; top: number; bottom: number }) {
  const w = 125;
  const h = 54;
  const x0 = a.right - 8 - w;
  const y0 = a.top + 6;
  ctx.save();
  ctx.beginPath();
  const r = 3;
  ctx.moveTo(x0 + r, y0);
  ctx.lineTo(x0 + w - r, y0);
  ctx.arcTo(x0 + w, y0, x0 + w, y0 + r, r);
  ctx.lineTo(x0 + w, y0 + h - r);
  ctx.arcTo(x0 + w, y0 + h, x0 + w - r, y0 + h, r);
  ctx.lineTo(x0 + r, y0 + h);
  ctx.arcTo(x0, y0 + h, x0, y0 + h - r, r);
  ctx.lineTo(x0, y0 + r);
  ctx.arcTo(x0, y0, x0 + r, y0, r);
  ctx.closePath();
  ctx.fillStyle = 'rgba(255,255,255,0.8)';
  ctx.fill();
  ctx.strokeStyle = '#cccccc';
  ctx.lineWidth = 1;
  ctx.stroke();
  const styles = [
    { color: '#000', dash: [] as number[] },
    { color: BLUE, dash: [5.5, 2.4] },
    { color: ORANGE, dash: [] as number[] },
  ];
  legendLabels.forEach((label, i) => {
    const y = y0 + 9 + i * 17.2;
    ctx.beginPath();
    ctx.setLineDash(styles[i].dash);
    ctx.strokeStyle = styles[i].color;
    ctx.lineWidth = 1.6;
    ctx.moveTo(x0 + 4, y);
    ctx.lineTo(x0 + 29, y);
    ctx.stroke();
    ctx.setLineDash([]);
    ctx.font = `${TITLE_SIZE}px ${FONT}`;
    ctx.fillStyle = '#000';
    ctx.textBaseline = 'middle';
    ctx.textAlign = 'left';
    ctx.fillText(label, x0 + 36, y + 0.5);
  });
  ctx.restore();
}

function decor(spec: PanelSpec) {
  return {
    id: 'decor',
    afterDatasetsDraw(chart: any) {
      const ctx: CanvasRenderingContext2D = chart.ctx;
      const a = chart.chartArea;
      const xs = chart.scales.x;
      const ys = chart.scales.y;
      ctx.save();
      ctx.beginPath();
      ctx.rect(a.left, a.top, a.right - a.left, a.bottom - a.top);
      ctx.clip();
      if (spec.gaps) {
        ctx.strokeStyle = '#858585';
        ctx.lineWidth = 1.5;
        ctx.setLineDash([]);
        for (const g of ringGapOffsets) {
          const px = xs.getPixelForValue(g);
          ctx.beginPath();
          ctx.moveTo(px, a.top);
          ctx.lineTo(px, a.bottom);
          ctx.stroke();
        }
        const cx = xs.getPixelForValue(0);
        ctx.strokeStyle = '#000';
        ctx.lineWidth = 1.6;
        ctx.setLineDash([5.5, 2.4]);
        ctx.beginPath();
        ctx.moveTo(cx, a.top);
        ctx.lineTo(cx, a.bottom);
        ctx.stroke();
      }
      ctx.restore();
      ctx.save();
      const ry = Math.min(ys.getPixelForValue(spec.refY), a.bottom - 0.5);
      ctx.strokeStyle = '#000';
      ctx.lineWidth = 1.5;
      ctx.setLineDash([1.5, 2.2]);
      ctx.beginPath();
      ctx.moveTo(a.left, ry);
      ctx.lineTo(a.right, ry);
      ctx.stroke();
      ctx.restore();
      // spines
      ctx.save();
      ctx.strokeStyle = '#000';
      ctx.lineWidth = 1;
      ctx.strokeRect(a.left, a.top, a.right - a.left, a.bottom - a.top);
      ctx.restore();
      // panel letter
      ctx.save();
      ctx.font = `${TITLE_SIZE}px ${FONT}`;
      ctx.fillStyle = '#000';
      ctx.textBaseline = 'middle';
      ctx.textAlign = 'left';
      ctx.fillText(spec.letter, a.left + 4, a.top + 11);
      ctx.restore();
      // y titles
      const cy = (a.top + a.bottom) / 2;
      for (const t of spec.titles) drawRuns(ctx, t.runs, t.x, cy);
      if (spec.legend) drawLegend(ctx, a);
      if (spec.xLabels) {
        ctx.save();
        ctx.font = `${TITLE_SIZE}px ${FONT}`;
        ctx.fillStyle = '#000';
        ctx.textBaseline = 'middle';
        ctx.textAlign = 'center';
        ctx.fillText(xAxisTitle, (a.left + a.right) / 2, a.bottom + 27);
        ctx.restore();
      }
    },
  };
}

function Panel({ spec }: { spec: PanelSpec }) {
  const ref = useRef<HTMLCanvasElement | null>(null);
  const height = PAD_TOP + AREA_H + spec.axisH + PAD_BOTTOM;
  useEffect(() => {
    if (!ref.current) return;
    const gridOpts = { drawOnChartArea: false, drawTicks: true, tickLength: 4, color: '#000', lineWidth: 1 };
    const tickFont = { family: FONT, size: 11 };
    const chart = new Chart(ref.current, {
      type: 'line',
      data: { datasets: spec.datasets },
      options: {
        animation: false,
        responsive: false,
        events: [],
        layout: { autoPadding: false, padding: { top: PAD_TOP, left: 0, right: RIGHT_PAD, bottom: PAD_BOTTOM } } as any,
        plugins: { legend: { display: false }, tooltip: { enabled: false }, title: { display: false } },
        elements: {
          point: { radius: 0 },
          line: { cubicInterpolationMode: 'monotone', capBezierPoints: false },
        },
        scales: {
          x: {
            type: 'linear',
            min: -90,
            max: 90,
            afterBuildTicks: (s: any) => { s.ticks = xTickValues.map((v) => ({ value: v })); },
            afterFit: (s: any) => { s.height = spec.axisH; },
            grid: gridOpts,
            border: { display: false },
            ticks: {
              display: !!spec.xLabels, padding: 3, font: tickFont, color: '#000', maxRotation: 0, autoSkip: false,
              callback: (v: any) => minus(String(v)),
            },
          },
          y: {
            type: 'linear',
            position: 'left',
            min: spec.yMin,
            max: spec.yMax,
            afterBuildTicks: (s: any) => { s.ticks = spec.yTicks.map((v) => ({ value: v })); },
            afterFit: (s: any) => { s.width = Y_AXIS_W; },
            grid: gridOpts,
            border: { display: false },
            ticks: { padding: 4, font: tickFont, color: '#000', autoSkip: false, callback: (v: any) => spec.yFmt(Number(v)) },
          },
        },
      } as any,
      plugins: [decor(spec)],
    });
    return () => chart.destroy();
  }, [spec]);
  return (
    <canvas
      ref={ref}
      width={830}
      height={height}
      style={{ position: 'absolute', left: 0, top: spec.areaTop - PAD_TOP, width: 830, height }}
    />
  );
}

export default function App() {
  return (
    <div style={{ position: 'absolute', left: 0, top: 0, width: 830, height: 623, background: '#fff', overflow: 'hidden' }}>
      {panels.map((p) => (
        <Panel key={p.letter} spec={p} />
      ))}
    </div>
  );
}
